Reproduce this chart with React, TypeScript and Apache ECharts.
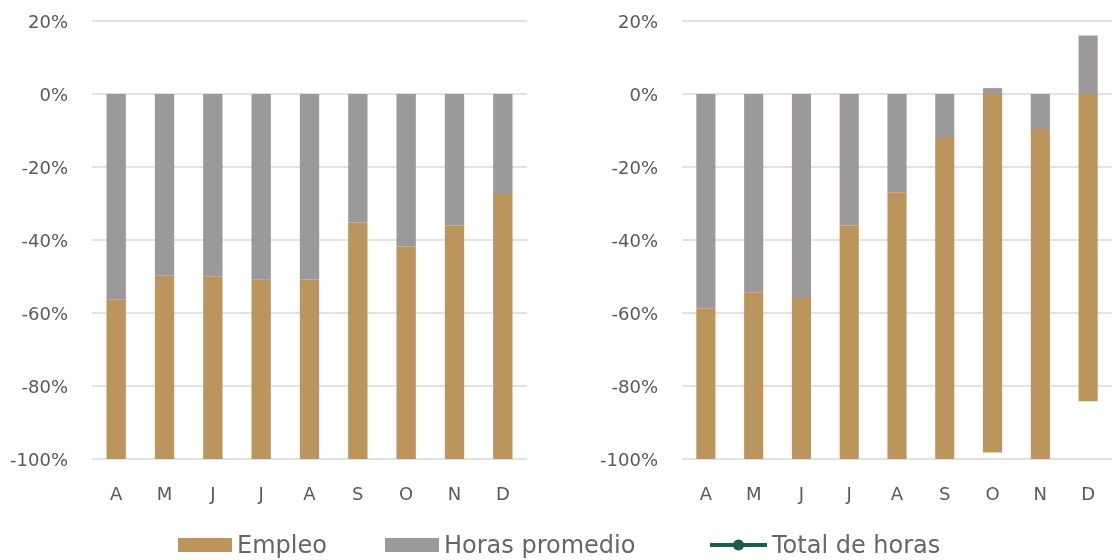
import React, { useEffect, useRef } from "react";
import * as echarts from "echarts";

const months = ["A", "M", "J", "J", "A", "S", "O", "N", "D"];
const yTicks = [20, 0, -20, -40, -60, -80, -100];

// Left panel
const leftHoras = [-56.4, -49.8, -50.1, -50.9, -50.8, -35.2, -41.8, -36.0, -27.4];
const leftEmpleo = [-43.6, -50.2, -49.9, -49.1, -49.2, -64.8, -58.2, -64.0, -72.6];

// Right panel
const rightHoras = [-58.7, -54.3, -55.9, -36.0, -26.9, -11.8, 1.6, -9.6, 16.0];
const rightEmpleo = [-41.3, -45.7, -44.1, -64.0, -73.1, -88.2, -98.2, -90.4, -84.2];

// Total de horas: no visible points in the reference
const totalHoras: (number | null)[] = [];

const TAN = "#BC955C";
const GRAY = "#9B999A";
const GREEN = "#1E5B4F";
const TEXT = "#595959";
const FONT = "DejaVu Sans";

export default function App() {
  const ref = useRef<HTMLDivElement>(null);

  useEffect(() => {
    if (!ref.current) return;
    const chart = echarts.init(ref.current, undefined, { renderer: "svg" });

    const yAxisBase = (gridIndex: number) => ({
      type: "value" as const,
      gridIndex,
      min: yTicks[yTicks.length - 1],
      max: yTicks[0],
      interval: 20,
      axisLine: { show: false },
      axisTick: { show: false },
      axisLabel: {
        formatter: "{value}%",
        color: TEXT,
        fontSize: 18,
        fontFamily: FONT,
        margin: 24,
      },
      splitLine: { lineStyle: { color: "#D9D9D9", width: 1.5 } },
    });

    const xAxisBase = (gridIndex: number) => ({
      type: "category" as const,
      gridIndex,
      data: months,
      axisLine: { show: false },
      axisTick: { show: false },
      axisLabel: {
        color: TEXT,
        fontSize: 18,
        fontFamily: FONT,
        margin: 25,
      },
    });

    const legendBase = (name: string, left: number, itemWidth: number, icon?: string) => ({
      data: icon ? [{ name, icon }] : [name],
      left,
      top: 531,
      itemWidth,
      itemHeight: 14,
      itemGap: 0,
      lineStyle: { width: 4 },
      textStyle: {
        color: "#666666",
        fontSize: 24,
        fontFamily: FONT,
        lineHeight: 28,
      },
      padding: 0,
    });

    chart.setOption({
      animation: false,
      grid: [
        { left: 92, top: 21, width: 435, height: 438 },
        { left: 682, top: 21, width: 435, height: 438 },
      ],
      xAxis: [xAxisBase(0), xAxisBase(1)],
      yAxis: [yAxisBase(0), yAxisBase(1)],
      legend: [
        legendBase("Empleo", 178, 54, "rect"),
        legendBase("Horas promedio", 385, 54, "rect"),
        legendBase("Total de horas", 708, 57),
      ],
      series: [
        {
          name: "Horas promedio",
          type: "bar",
          xAxisIndex: 0,
          yAxisIndex: 0,
          stack: "left",
          barWidth: "40%",
          itemStyle: { color: GRAY },
          data: leftHoras,
        },
        {
          name: "Empleo",
          type: "bar",
          xAxisIndex: 0,
          yAxisIndex: 0,
          stack: "left",
          barWidth: "40%",
          itemStyle: { color: TAN },
          data: leftEmpleo,
        },
        {
          name: "Horas promedio",
          type: "bar",
          xAxisIndex: 1,
          yAxisIndex: 1,
          stack: "right",
          barWidth: "40%",
          itemStyle: { color: GRAY },
          data: rightHoras,
        },
        {
          name: "Empleo",
          type: "bar",
          xAxisIndex: 1,
          yAxisIndex: 1,
          stack: "right",
          barWidth: "40%",
          itemStyle: { color: TAN },
          data: rightEmpleo,
        },
        {
          name: "Total de horas",
          type: "line",
          xAxisIndex: 0,
          yAxisIndex: 0,
          symbol: "circle",
          symbolSize: 9,
          itemStyle: { color: GREEN },
          lineStyle: { color: GREEN, width: 4 },
          data: totalHoras,
        },
      ],
    });

    return () => chart.dispose();
  }, []);

  return (
    <div
      ref={ref}
      style={{ position: "fixed", left: 0, top: 0, width: 1112, height: 560 }}
    />
  );
}
